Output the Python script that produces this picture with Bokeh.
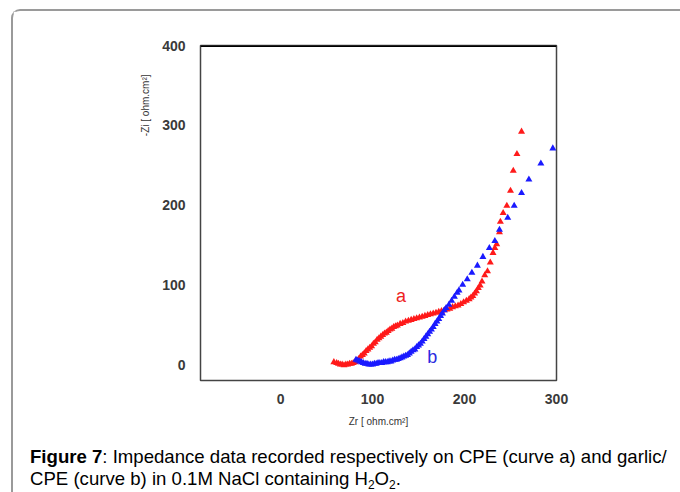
from bokeh.plotting import figure
from bokeh.models import Range1d, Span, Label, FixedTicker, Title, Div
from bokeh.layouts import column
from bokeh.embed import file_html
from bokeh.resources import INLINE

# Curve a (CPE) - red
a_zr = [58, 61, 63, 65, 67, 69, 71, 73, 75, 77, 79, 81, 83, 85, 87, 89, 91, 93, 95, 97,
        99, 101, 103, 105, 107, 109, 111, 113, 115, 117, 119, 121, 123, 125, 127, 130, 133,
        136, 139, 142, 145, 148, 151, 154, 157, 160, 163, 166, 169, 172, 175, 178, 181, 184,
        187, 190, 193, 196, 199, 202, 205, 207, 209, 211, 213, 215, 217, 219, 222, 225, 228,
        231, 233, 235, 238, 239, 242, 246, 250, 253, 257, 262]
a_zi = [3, 2, 1, 0, 0, -1, 0, 0, 1, 1, 2, 3, 5, 7, 10, 12, 14, 17, 19, 21,
        23, 26, 28, 31, 33, 35, 37, 39, 40, 42, 44, 45, 47, 48, 49, 51, 52,
        54, 55, 56, 57, 58, 59, 60, 61, 62, 63, 64, 65, 66, 67, 68, 69, 70,
        72, 73, 74, 76, 78, 80, 82, 84, 86, 89, 92, 96, 99, 104, 112, 117, 128,
        140, 146, 151, 166, 179, 190, 199, 218, 243, 264, 292]

# Curve b (garlic/CPE) - blue
b_zr = [82, 84, 86, 88, 90, 92, 94, 96, 98, 100, 102, 104, 106, 108, 110, 112, 114, 116,
        118, 120, 122, 124, 126, 128, 130, 132, 134, 136, 138, 140, 142, 144, 146, 148, 150,
        152, 154, 156, 158, 160, 162, 164, 166, 168, 170, 172, 174, 176, 178, 180, 183, 186,
        189, 192, 194, 198, 203, 208, 214, 220, 227, 233, 238, 247, 254, 262, 270, 283, 296]
b_zi = [6, 5, 4, 3, 2, 1, 1, 0, 0, 0, 1, 1, 2, 2, 2, 3, 3, 3,
        4, 4, 5, 6, 6, 7, 8, 9, 10, 11, 12, 14, 16, 18, 19, 22, 24,
        26, 29, 32, 35, 38, 41, 44, 47, 51, 54, 57, 61, 64, 68, 71, 75, 80,
        85, 90, 93, 100, 107, 115, 124, 135, 146, 155, 169, 184, 199, 215, 232, 252, 271]

x_ticks = [0, 100, 200, 300]
y_ticks = [0, 100, 200, 300, 400]

p = figure(width=667, height=425, output_backend="svg", toolbar_location=None,
           x_range=Range1d(-87, 300), y_range=Range1d(-20, 400),
           min_border_left=187, min_border_right=124, min_border_top=34, min_border_bottom=56)
p.grid.visible = False
p.outline_line_color = "#444444"
p.outline_line_width = 1.5
p.background_fill_color = "white"
p.border_fill_color = "white"

for ax in (p.xaxis[0], p.yaxis[0]):
    ax.axis_line_color = None
    ax.major_tick_line_color = None
    ax.minor_tick_line_color = None
    ax.major_label_text_font = "Liberation Sans"
    ax.major_label_text_font_style = "bold"
    ax.major_label_text_font_size = "14px"
    ax.major_label_text_color = "#3a3a3a"
p.xaxis[0].ticker = FixedTicker(ticks=x_ticks)
p.yaxis[0].ticker = FixedTicker(ticks=y_ticks)
p.xaxis[0].major_label_standoff = 7
p.yaxis[0].major_label_standoff = 9

p.xaxis[0].axis_label = "Zr [ ohm.cm²]"
p.xaxis[0].axis_label_text_font = "Liberation Sans"
p.xaxis[0].axis_label_text_font_style = "normal"
p.xaxis[0].axis_label_text_font_size = "10px"
p.xaxis[0].axis_label_text_color = "#333333"
p.xaxis[0].axis_label_standoff = 9

p.add_layout(Title(text="-Zi [ ohm.cm²]", align="right", offset=29, standoff=17,
                   text_font="Liberation Sans", text_font_style="normal",
                   text_font_size="10px", text_color="#333333"), "left")

p.add_layout(Span(location=400, dimension="width", line_color="black", line_width=3))

p.scatter(a_zr, a_zi, marker="triangle", size=7, color="#ff1a1a", line_width=0)
p.scatter(b_zr, b_zi, marker="triangle", size=7, color="#1a1aff", line_width=0)

p.add_layout(Label(x=131, y=86, text="a", text_color="#ee2222", text_font="Liberation Sans",
                   text_font_size="18px", text_align="center", text_baseline="middle"))
p.add_layout(Label(x=165, y=10, text="b", text_color="#2a2ae0", text_font="Liberation Sans",
                   text_font_size="18px", text_align="center", text_baseline="middle"))

sub = '<sub style="font-size:12px;line-height:0;vertical-align:-4px">2</sub>'
caption = Div(
    text=("<b>Figure 7</b>: Impedance data recorded respectively on CPE (curve a) and garlic/"
          "<br>CPE (curve b) in 0.1M NaCl containing H" + sub + "O" + sub + "."),
    width=667, height=56,
    styles={"font-family": "'Liberation Sans', Arial, sans-serif", "font-size": "18.6px",
            "line-height": "22px", "color": "black", "white-space": "nowrap",
            "padding-left": "12px", "padding-top": "5px", "box-sizing": "border-box",
            "overflow": "visible"})

layout = column(p, caption, spacing=0,
                styles={"margin-left": "11px", "margin-top": "9px",
                        "border-left": "2px solid #9a9a9a", "border-top": "2px solid #9a9a9a",
                        "border-top-left-radius": "9px", "background": "white"})

open("out.html", "w").write(file_html(layout, INLINE))
